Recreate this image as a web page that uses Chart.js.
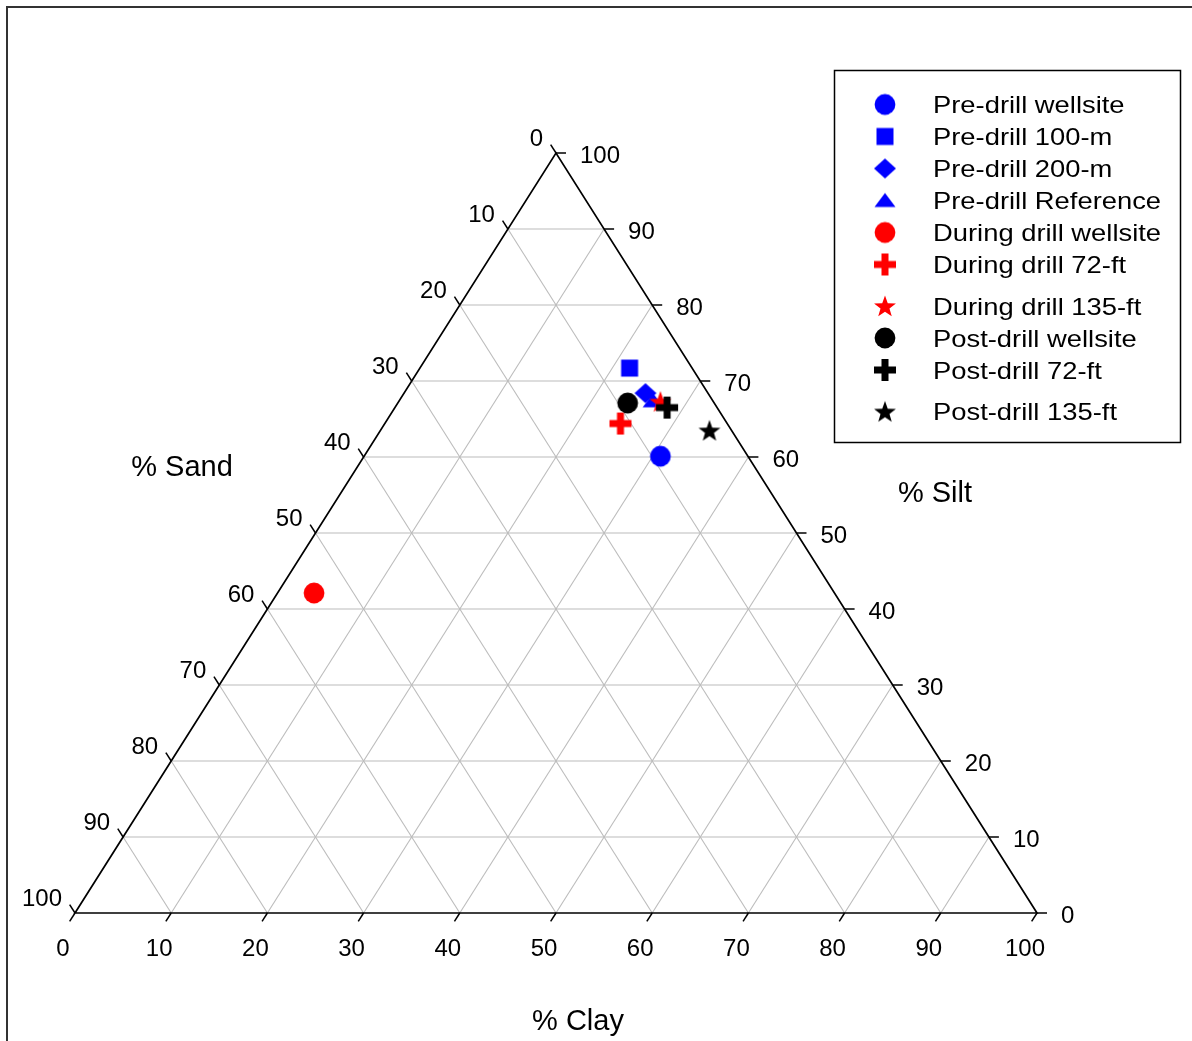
<!DOCTYPE html>
<html>
<head>
<meta charset="utf-8">
<script src="https://cdn.jsdelivr.net/npm/chart.js@4.4.1/dist/chart.umd.min.js"></script>
<style>
  html, body { margin: 0; padding: 0; background: #fff; }
  canvas { display: block; }
</style>
</head>
<body>
<canvas id="ternary" width="1192" height="1041"></canvas>
<script>
// Sediment texture of each sample group (percent sand / silt / clay)
const seriesLabels = [
  'Pre-drill wellsite', 'Pre-drill 100-m', 'Pre-drill 200-m', 'Pre-drill Reference',
  'During drill wellsite', 'During drill 72-ft', 'During drill 135-ft',
  'Post-drill wellsite', 'Post-drill 72-ft', 'Post-drill 135-ft'
];
const sandPct = [9.1, 6.5, 6.5, 6.2, 54.1, 11.1, 5.5, 9.0, 5.2, 2.3];
const siltPct = [60.1, 71.7, 68.4, 67.4, 42.1, 64.4, 67.3, 67.1, 66.5, 63.5];
const clayPct = [30.8, 21.8, 25.1, 26.4, 3.8, 24.5, 27.2, 23.9, 28.3, 34.2];

const tickValues = [0, 10, 20, 30, 40, 50, 60, 70, 80, 90, 100];
const gridSteps = [10, 20, 30, 40, 50, 60, 70, 80, 90];
const axisTitles = { sand: '% Sand', silt: '% Silt', clay: '% Clay' };

// Marker shape and colour for each group
const markerShapes = ['circle', 'square', 'diamond', 'triangle', 'circle', 'plus', 'star', 'circle', 'plus', 'star'];
const markerColors = ['#0000ff', '#0000ff', '#0000ff', '#0000ff', '#ff0000', '#ff0000', '#ff0000', '#000000', '#000000', '#000000'];

const FONT = '"Liberation Sans", Arial, Helvetica, sans-serif';

// Ternary composition -> cartesian data units: clay runs along the base, silt rises to the apex
function toXY(sand, silt, clay) {
  const t = sand + silt + clay;
  return { x: (clay + silt / 2) * 100 / t, y: silt * 100 / t };
}

function makeMarker(shape, color) {
  const c = document.createElement('canvas');
  c.width = 24; c.height = 24;
  const g = c.getContext('2d');
  const m = 12;
  g.fillStyle = color;
  g.beginPath();
  switch (shape) {
    case 'circle':
      g.arc(m, m, 10.4, 0, Math.PI * 2);
      break;
    case 'square':
      g.rect(m - 8.5, m - 8.5, 17, 17);
      break;
    case 'diamond':
      g.moveTo(m, m - 10); g.lineTo(m + 11, m); g.lineTo(m, m + 10); g.lineTo(m - 11, m);
      break;
    case 'triangle':
      g.moveTo(m, m - 7.5); g.lineTo(m + 10.5, m + 6.5); g.lineTo(m - 10.5, m + 6.5);
      break;
    case 'plus':
      g.rect(m - 3.5, m - 11, 7, 22);
      g.rect(m - 11, m - 3.5, 22, 7);
      break;
    case 'star': {
      const ro = 11.5, ri = 4.7, cy = m + 1;
      for (let i = 0; i < 10; i++) {
        const r = i % 2 === 0 ? ro : ri;
        const a = -Math.PI / 2 + i * Math.PI / 5;
        const px = m + r * Math.cos(a), py = cy + r * Math.sin(a);
        if (i === 0) g.moveTo(px, py); else g.lineTo(px, py);
      }
      break;
    }
  }
  g.closePath();
  g.fill();
  return c;
}

const markerImages = markerShapes.map((s, i) => makeMarker(s, markerColors[i]));

const datasets = seriesLabels.map((label, i) => ({
  label,
  data: [toXY(sandPct[i], siltPct[i], clayPct[i])],
  pointStyle: markerImages[i],
  pointRadius: 11,
  pointHoverRadius: 11,
  backgroundColor: markerColors[i],
  borderColor: markerColors[i],
  showLine: false,
  clip: false,
  order: seriesLabels.length - i
}));

function line(ctx, a, b) {
  ctx.beginPath();
  ctx.moveTo(a[0], a[1]);
  ctx.lineTo(b[0], b[1]);
  ctx.stroke();
}

// Triangle, grid, ticks and tick labels drawn through the chart's scales
const ternaryAxes = {
  id: 'ternaryAxes',
  beforeDatasetsDraw(chart) {
    const { ctx } = chart;
    const sx = chart.scales.x, sy = chart.scales.y;
    const P = (sand, silt, clay) => {
      const q = toXY(sand, silt, clay);
      return [sx.getPixelForValue(q.x), sy.getPixelForValue(q.y)];
    };
    const apex = P(0, 100, 0), bl = P(100, 0, 0), br = P(0, 0, 100);
    ctx.save();

    // light grid
    ctx.strokeStyle = '#bcbcbc';
    ctx.lineWidth = 1.1;
    gridSteps.forEach(k => {
      line(ctx, P(100 - k, k, 0), P(0, k, 100 - k));      // constant silt
      line(ctx, P(100 - k, 0, k), P(0, 100 - k, k));      // constant clay
      line(ctx, P(k, 100 - k, 0), P(k, 0, 100 - k));      // constant sand
    });

    // outline
    ctx.strokeStyle = '#000';
    ctx.lineWidth = 1.7;
    ctx.lineJoin = 'miter';
    ctx.beginPath();
    ctx.moveTo(bl[0], bl[1]);
    ctx.lineTo(br[0], br[1]);
    ctx.lineTo(apex[0], apex[1]);
    ctx.closePath();
    ctx.stroke();

    // tick directions
    const unit = (a, b) => { const dx = b[0] - a[0], dy = b[1] - a[1]; const L = Math.hypot(dx, dy); return [dx / L, dy / L]; };
    const dClay = unit(apex, bl);   // down-left
    const dSand = unit(br, apex);   // up-left
    const dSilt = [1, 0];
    const TL = 10;

    ctx.lineWidth = 1.5;
    ctx.fillStyle = '#000';
    ctx.font = '24px ' + FONT;
    ctx.textBaseline = 'alphabetic';
    const capMid = 24 * 0.358;

    tickValues.forEach(v => {
      // clay along the base
      const c = P(100 - v, 0, v);
      line(ctx, c, [c[0] + dClay[0] * TL, c[1] + dClay[1] * TL]);
      ctx.textAlign = 'center';
      ctx.fillText(String(v), c[0] - 12, c[1] + 34 + capMid);

      // silt along the right edge
      const s = P(0, v, 100 - v);
      line(ctx, s, [s[0] + dSilt[0] * TL, s[1]]);
      ctx.textAlign = 'left';
      ctx.fillText(String(v), s[0] + 24, s[1] + 1.5 + capMid);

      // sand along the left edge
      const d = P(v, 100 - v, 0);
      line(ctx, d, [d[0] + dSand[0] * TL, d[1] + dSand[1] * TL]);
      ctx.textAlign = 'right';
      ctx.fillText(String(v), d[0] - 13, d[1] - 16 + capMid);
    });

    // axis titles
    const ca = chart.chartArea;
    ctx.font = '29px ' + FONT;
    ctx.textAlign = 'center';
    const tMid = 29 * 0.358;
    ctx.fillText(axisTitles.sand, ca.left + 107, ca.top + 313 + tMid);
    ctx.fillText(axisTitles.silt, ca.right - 102, ca.top + 339 + tMid);
    ctx.fillText(axisTitles.clay, ca.left + 503, ca.bottom + 107 + tMid);
    ctx.restore();
  }
};

// Outer frame and boxed legend
const frameAndLegend = {
  id: 'frameAndLegend',
  afterDraw(chart) {
    const { ctx } = chart;
    ctx.save();
    ctx.strokeStyle = '#333';
    ctx.lineWidth = 2;
    ctx.strokeRect(7, 7, 1400, 1400);

    const box = { x: 834.5, y: 70.5, w: 346, h: 372 };
    ctx.fillStyle = '#fff';
    ctx.fillRect(box.x, box.y, box.w, box.h);
    ctx.strokeStyle = '#000';
    ctx.lineWidth = 1.5;
    ctx.strokeRect(box.x, box.y, box.w, box.h);

    const markerX = 885, textX = 933;
    let y = 104.5;
    ctx.font = '24px ' + FONT;
    ctx.fillStyle = '#000';
    ctx.textAlign = 'left';
    ctx.textBaseline = 'alphabetic';
    seriesLabels.forEach((label, i) => {
      if (i === 6 || i === 9) y += 9.5;
      const img = markerImages[i];
      ctx.drawImage(img, markerX - img.width / 2, y - img.height / 2);
      ctx.save();
      ctx.translate(textX, y + 24 * 0.358);
      ctx.scale(1.14, 1);
      ctx.fillText(label, 0, 0);
      ctx.restore();
      y += 32;
    });
    ctx.restore();
  }
};

new Chart(document.getElementById('ternary'), {
  type: 'scatter',
  data: { datasets },
  options: {
    responsive: false,
    animation: false,
    events: [],
    layout: { padding: { left: 75, right: 155, top: 153, bottom: 128 } },
    scales: {
      x: { type: 'linear', min: 0, max: 100, display: false },
      y: { type: 'linear', min: 0, max: 100, display: false }
    },
    plugins: {
      legend: { display: false },
      tooltip: { enabled: false }
    }
  },
  plugins: [ternaryAxes, frameAndLegend]
});
</script>
</body>
</html>
